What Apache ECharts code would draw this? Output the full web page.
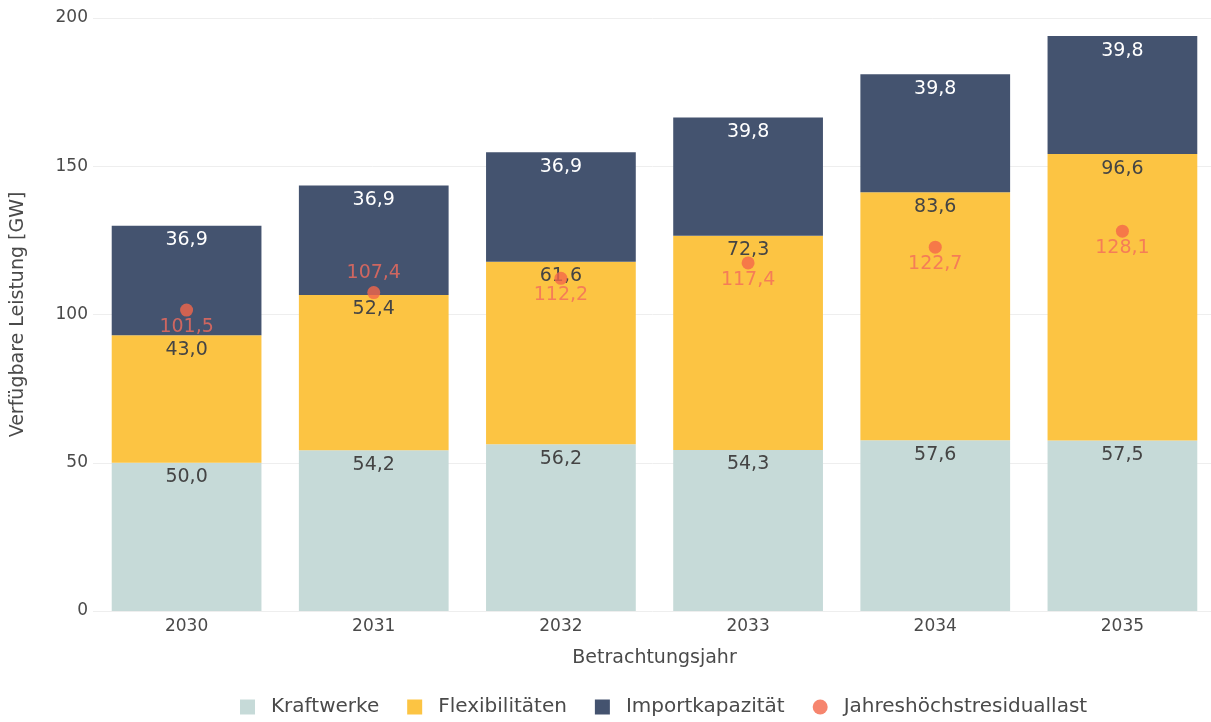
<!DOCTYPE html>
<html lang="de">
<head>
    <meta charset="UTF-8">
    <title>Verfügbare Leistung</title>
    <script src="https://cdn.jsdelivr.net/npm/echarts@6/dist/echarts.min.js"></script>
    <style>
        html, body { margin: 0; padding: 0; background: #fff; }
        #chart { width: 1211px; height: 722px; }
    </style>
</head>
<body>
<div id="chart"></div>
<script>
    // Daten
    var years = ['2030', '2031', '2032', '2033', '2034', '2035'];
    var kraftwerke = [50.0, 54.2, 56.2, 54.3, 57.6, 57.5];
    var flexibilitaeten = [43.0, 52.4, 61.6, 72.3, 83.6, 96.6];
    var importkapazitaet = [36.9, 36.9, 36.9, 39.8, 39.8, 39.8];
    var residuallast = [101.5, 107.4, 112.2, 117.4, 122.7, 128.1];
    var yTicks = [0, 50, 100, 150, 200];

    var fontFam = '"DejaVu Sans", Verdana, sans-serif';
    function fmt(v) {
        return v.toFixed(1).replace('.', ',');
    }

    // Beschriftung der Residuallast: 2031 steht über dem Punkt
    var residualData = residuallast.map(function (v, i) {
        if (years[i] === '2031') {
            return { value: v, label: { position: 'top', distance: 3 } };
        }
        return v;
    });

    var myChart = echarts.init(document.getElementById('chart'));
    var option = {
        animation: false,
        textStyle: { fontFamily: fontFam },
        grid: { left: 93, width: 1123, top: 18, bottom: 111, outerBoundsMode: 'none', containLabel: false },
        legend: {
            bottom: 0,
            left: 235,
            itemWidth: 15,
            itemHeight: 15,
            itemGap: 28,
            textStyle: { fontSize: 20, color: '#4a4a4a', fontFamily: fontFam, padding: [0, 0, 0, 11] },
            data: [
                { name: 'Kraftwerke', icon: 'rect' },
                { name: 'Flexibilitäten', icon: 'rect' },
                { name: 'Importkapazität', icon: 'rect' },
                { name: 'Jahreshöchstresiduallast', icon: 'circle' }
            ]
        },
        xAxis: {
            type: 'category',
            data: years,
            name: 'Betrachtungsjahr',
            nameLocation: 'middle',
            nameGap: 38,
            nameTextStyle: { fontSize: 19, color: '#4a4a4a' },
            axisLine: { show: false },
            axisTick: { show: false },
            axisLabel: { fontSize: 17, color: '#4a4a4a', margin: 7 }
        },
        yAxis: {
            type: 'value',
            min: yTicks[0],
            max: yTicks[yTicks.length - 1],
            interval: 50,
            name: 'Verfügbare Leistung [GW]',
            nameLocation: 'middle',
            nameGap: 65,
            nameTextStyle: { fontSize: 19, color: '#4a4a4a' },
            axisLabel: { fontSize: 17, color: '#4a4a4a', margin: 5 },
            splitLine: { lineStyle: { color: '#eeeeee' } }
        },
        series: [
            {
                name: 'Kraftwerke',
                type: 'bar',
                stack: 'total',
                barCategoryGap: '20%',
                data: kraftwerke,
                itemStyle: { color: '#c6dad8' },
                label: {
                    show: true, position: 'insideTop', distance: 5,
                    color: '#444', fontSize: 19,
                    formatter: function (p) { return fmt(p.value); }
                }
            },
            {
                name: 'Flexibilitäten',
                type: 'bar',
                stack: 'total',
                data: flexibilitaeten,
                itemStyle: { color: '#fcc443' },
                label: {
                    show: true, position: 'insideTop', distance: 5,
                    color: '#444', fontSize: 19,
                    formatter: function (p) { return fmt(p.value); }
                }
            },
            {
                name: 'Importkapazität',
                type: 'bar',
                stack: 'total',
                data: importkapazitaet,
                itemStyle: { color: '#44536f' },
                label: {
                    show: true, position: 'insideTop', distance: 5,
                    color: '#ffffff', fontSize: 19,
                    formatter: function (p) { return fmt(p.value); }
                }
            },
            {
                name: 'Jahreshöchstresiduallast',
                type: 'scatter',
                data: residualData,
                symbolSize: 13,
                itemStyle: { color: '#f4674a' },
                z: 5,
                label: {
                    show: true, position: 'bottom', distance: 1,
                    color: '#f26c5c', fontSize: 19,
                    formatter: function (p) { return fmt(p.value); }
                }
            }
        ]
    };
    myChart.setOption(option);
</script>
</body>
</html>
